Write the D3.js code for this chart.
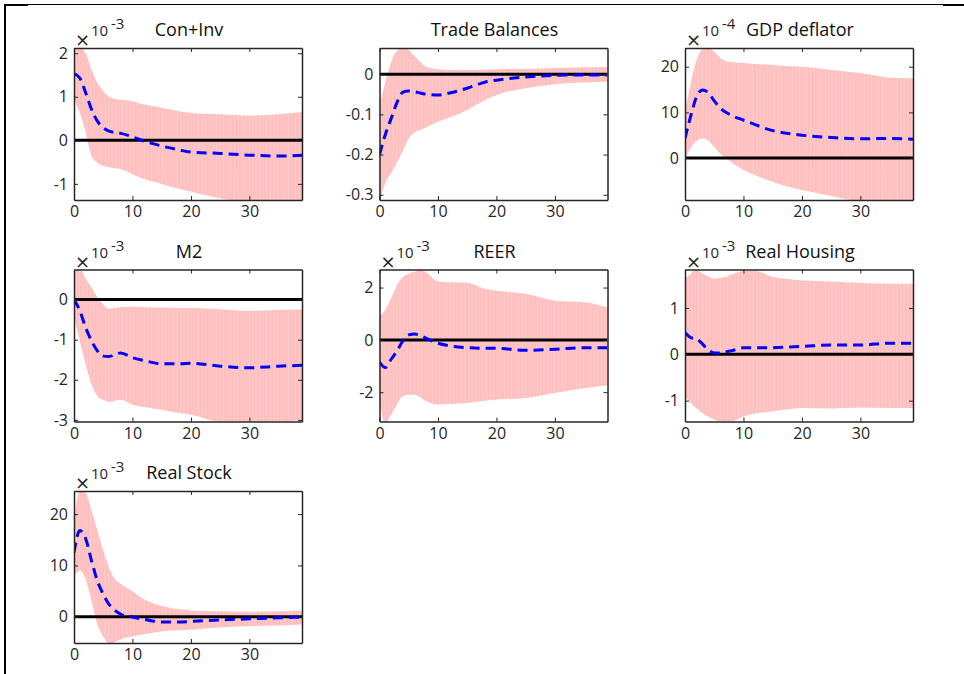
<!DOCTYPE html>
<html>
<head>
<meta charset="utf-8">
<script src="https://cdn.jsdelivr.net/npm/d3@7"></script>
<style>
  body { margin: 0; background: #fff; }
  svg { display: block; font-family: "Open Sans", Roboto, sans-serif; }
</style>
</head>
<body>
<script>
const horizons = [0, 1, 2, 3, 4, 5, 6, 7, 8, 10, 12, 15, 18, 20, 25, 30, 35, 39];

// Con+Inv (x 1e-3)
const conInvHi  = [2.09, 2.12, 2.0, 1.62, 1.32, 1.13, 1.0, 0.95, 0.93, 0.9, 0.82, 0.75, 0.67, 0.63, 0.6, 0.57, 0.6, 0.65];
const conInvMed = [1.53, 1.43, 1.09, 0.71, 0.44, 0.29, 0.21, 0.18, 0.16, 0.08, -0.02, -0.13, -0.22, -0.27, -0.3, -0.34, -0.36, -0.34];
const conInvLo  = [0.94, 0.63, 0.18, -0.36, -0.51, -0.59, -0.62, -0.64, -0.66, -0.78, -0.89, -1.0, -1.12, -1.18, -1.33, -1.42, -1.43, -1.42];

// Trade Balances
const tradeHi  = [-0.077, -0.02, 0.03, 0.058, 0.065, 0.06, 0.045, 0.03, 0.018, 0.012, 0.01, 0.01, 0.011, 0.012, 0.013, 0.015, 0.017, 0.018];
const tradeMed = [-0.2, -0.15, -0.11, -0.07, -0.045, -0.042, -0.044, -0.047, -0.05, -0.052, -0.047, -0.035, -0.02, -0.015, -0.007, -0.003, -0.002, -0.002];
const tradeLo  = [-0.32, -0.27, -0.245, -0.22, -0.19, -0.16, -0.145, -0.139, -0.133, -0.118, -0.108, -0.089, -0.065, -0.052, -0.035, -0.025, -0.021, -0.019];

// GDP deflator (x 1e-4)
const gdpHi  = [9.9, 16.5, 21.5, 23.8, 24.1, 23.3, 22, 21.2, 21, 20.8, 20.6, 20.4, 20.1, 20, 19.3, 18.6, 17.6, 17.5];
const gdpMed = [4.3, 9.3, 13.5, 14.9, 14.3, 12.5, 11, 10, 9.3, 8.3, 7.3, 6, 5.3, 5.0, 4.5, 4.2, 4.3, 4.1];
const gdpLo  = [-0.1, 2.2, 3.8, 4.3, 3.8, 2.4, 1.0, 0, -1.0, -2.6, -3.8, -5.2, -6.4, -7.0, -8.3, -9.4, -9.5, -9.5];

// M2 (x 1e-3)
const m2Hi  = [0.77, 0.77, 0.52, 0.3, 0.06, -0.12, -0.23, -0.21, -0.19, -0.18, -0.19, -0.2, -0.21, -0.21, -0.24, -0.28, -0.26, -0.25];
const m2Med = [0.0, -0.28, -0.7, -1.03, -1.28, -1.41, -1.42, -1.37, -1.33, -1.45, -1.52, -1.6, -1.6, -1.59, -1.66, -1.7, -1.66, -1.64];
const m2Lo  = [-0.44, -1.03, -1.62, -2.12, -2.41, -2.5, -2.55, -2.52, -2.5, -2.62, -2.68, -2.75, -2.83, -2.87, -3.05, -3.08, -3.05, -3.0];

// REER (x 1e-3)
const reerHi  = [0.92, 1.15, 1.6, 2.1, 2.4, 2.53, 2.6, 2.69, 2.58, 2.24, 2.2, 2.18, 1.95, 1.88, 1.76, 1.5, 1.44, 1.24];
const reerMed = [-0.85, -1.06, -0.74, -0.42, -0.04, 0.19, 0.22, 0.17, 0.06, -0.13, -0.23, -0.3, -0.32, -0.32, -0.4, -0.36, -0.3, -0.3];
const reerLo  = [-2.35, -3.18, -2.86, -2.47, -2.15, -2.1, -2.1, -2.2, -2.35, -2.47, -2.45, -2.41, -2.33, -2.28, -2.22, -2.03, -1.85, -1.73];

// Real Housing (x 1e-3)
const housingHi  = [1.63, 1.74, 1.83, 1.74, 1.68, 1.63, 1.65, 1.67, 1.72, 1.8, 1.8, 1.67, 1.62, 1.59, 1.57, 1.54, 1.52, 1.52];
const housingMed = [0.47, 0.36, 0.33, 0.22, 0.09, 0.03, 0.03, 0.05, 0.08, 0.14, 0.14, 0.14, 0.16, 0.17, 0.2, 0.2, 0.24, 0.24];
const housingLo  = [-0.91, -1.05, -1.17, -1.27, -1.35, -1.41, -1.45, -1.47, -1.45, -1.34, -1.28, -1.23, -1.18, -1.16, -1.17, -1.15, -1.16, -1.16];

// Real Stock (x 1e-3)
const stockHi  = [18.8, 24.5, 24.1, 20.7, 16.8, 12.9, 9.6, 7.3, 6.4, 5.0, 3.4, 2.1, 1.45, 1.25, 1.1, 1.0, 1.1, 1.25];
const stockMed = [12.5, 16.8, 15.2, 10.9, 7.0, 4.4, 2.4, 1.25, 0.5, -0.06, -0.5, -1.0, -1.0, -0.9, -0.6, -0.4, -0.2, -0.05];
const stockLo  = [7.8, 9.0, 7.3, 3.1, -1.5, -3.8, -5.3, -4.9, -4.4, -3.8, -3.4, -2.8, -2.6, -2.5, -2.1, -1.8, -1.7, -1.5];

const titles = ["Con+Inv", "Trade Balances", "GDP deflator", "M2", "REER", "Real Housing", "Real Stock"];
const exponents = ["-3", null, "-4", "-3", "-3", "-3", "-3"];
const yDomains = [[-1.37, 2.12], [-0.313, 0.065], [-9.2, 24.1], [-3.04, 0.75], [-3.12, 2.69], [-1.45, 1.83], [-5.1, 24.5]];
const yTicks = [[-1, 0, 1, 2], [-0.3, -0.2, -0.1, 0], [0, 10, 20], [-3, -2, -1, 0], [-2, 0, 2], [-1, 0, 1], [0, 10, 20]];
const xTicks = [0, 10, 20, 30];
const series = [
  [conInvLo, conInvMed, conInvHi],
  [tradeLo, tradeMed, tradeHi],
  [gdpLo, gdpMed, gdpHi],
  [m2Lo, m2Med, m2Hi],
  [reerLo, reerMed, reerHi],
  [housingLo, housingMed, housingHi],
  [stockLo, stockMed, stockHi]
];

const W = 964, H = 674;
const font = "'Open Sans', Roboto, sans-serif";
const svg = d3.select("body").append("svg").attr("width", W).attr("height", H);

// faint vertical streaks seen inside the bands
const pat = svg.append("defs").append("pattern")
  .attr("id", "streaks").attr("patternUnits", "userSpaceOnUse")
  .attr("width", 3.6).attr("height", 674);
pat.append("line").attr("x1", 0.5).attr("x2", 0.5).attr("y1", 0).attr("y2", 674)
  .attr("stroke", "#fff").attr("stroke-width", 0.6).attr("stroke-opacity", 0.35);

// page frame (left and top edge only)
svg.append("line").attr("x1", 5).attr("x2", 5).attr("y1", 4).attr("y2", H).attr("stroke", "#000").attr("stroke-width", 2);
svg.append("line").attr("x1", 4).attr("x2", W).attr("y1", 4.5).attr("y2", 4.5).attr("stroke", "#000").attr("stroke-width", 1);
svg.append("line").attr("x1", 4).attr("x2", 28).attr("y1", 5).attr("y2", 5).attr("stroke", "#000").attr("stroke-width", 2);
svg.append("line").attr("x1", 943).attr("x2", W).attr("y1", 5).attr("y2", 5).attr("stroke", "#000").attr("stroke-width", 2);

const axW = 228, axH = 152;
const axColor = "#262626";

titles.forEach((title, i) => {
  const col = i % 3, row = Math.floor(i / 3);
  const left = 74 + col * 305.5;
  const top = 48 + row * 221.5;

  const x = d3.scaleLinear().domain([0, 39]).range([left, left + axW]);
  const y = d3.scaleLinear().domain(yDomains[i]).range([top + axH, top]);

  const [lo, med, hi] = series[i];
  const rows = horizons.map((h, k) => ({ h: h, lo: lo[k], med: med[k], hi: hi[k] }));

  const g = svg.append("g");
  const clipId = "clip" + i;
  g.append("clipPath").attr("id", clipId)
    .append("rect").attr("x", left).attr("y", top).attr("width", axW).attr("height", axH);

  const plot = g.append("g").attr("clip-path", `url(#${clipId})`);

  const area = d3.area()
    .x(d => x(d.h)).y0(d => y(d.lo)).y1(d => y(d.hi))
    .curve(d3.curveMonotoneX);
  plot.append("path").datum(rows).attr("d", area).attr("fill", "#ffbfbf");
  plot.append("path").datum(rows).attr("d", area).attr("fill", "url(#streaks)");

  // zero line
  plot.append("line")
    .attr("x1", x(0)).attr("x2", x(39))
    .attr("y1", y(0)).attr("y2", y(0))
    .attr("stroke", "#000").attr("stroke-width", 3);

  const line = d3.line().x(d => x(d.h)).y(d => y(d.med)).curve(d3.curveMonotoneX);
  plot.append("path").datum(rows)
    .attr("d", line)
    .attr("fill", "none")
    .attr("stroke", "#0000ff")
    .attr("stroke-width", 3)
    .attr("stroke-dasharray", "10,6");

  // axes box with inward ticks on all sides
  const fmt = d => String(d);
  const axes = [
    [d3.axisBottom(x).tickValues(xTicks).tickFormat(fmt), `translate(0,${top + axH})`],
    [d3.axisTop(x).tickValues(xTicks).tickFormat(""), `translate(0,${top})`],
    [d3.axisLeft(y).tickValues(yTicks[i]).tickFormat(fmt), `translate(${left},0)`],
    [d3.axisRight(y).tickValues(yTicks[i]).tickFormat(""), `translate(${left + axW},0)`]
  ];
  axes.forEach(([ax, tr]) => {
    const a = g.append("g").attr("transform", tr)
      .call(ax.tickSize(-4).tickSizeOuter(0).tickPadding(6));
    a.select(".domain").attr("stroke", axColor).attr("stroke-width", 1.5);
    a.selectAll(".tick line").attr("stroke", axColor).attr("stroke-width", 1);
    a.selectAll(".tick text").attr("fill", axColor)
      .style("font-size", "16px").style("font-family", font);
  });

  // title
  g.append("text")
    .attr("x", left + axW / 2 + 1).attr("y", top - 12)
    .attr("text-anchor", "middle")
    .style("font-size", "18px").style("font-family", font)
    .attr("fill", "#111")
    .text(title);

  // exponent label
  if (exponents[i]) {
    g.append("text").attr("x", left + 1).attr("y", top - 2)
      .style("font-size", "18px").style("font-family", "'DejaVu Sans', sans-serif")
      .attr("fill", axColor).text("\u00d7");
    g.append("text").attr("x", left + 17).attr("y", top - 12)
      .style("font-size", "15px").style("font-family", font)
      .attr("fill", axColor).text("10");
    g.append("text").attr("x", left + 37).attr("y", top - 19)
      .style("font-size", "15px").style("font-family", font)
      .attr("fill", axColor).text(exponents[i]);
  }
});
</script>
</body>
</html>
